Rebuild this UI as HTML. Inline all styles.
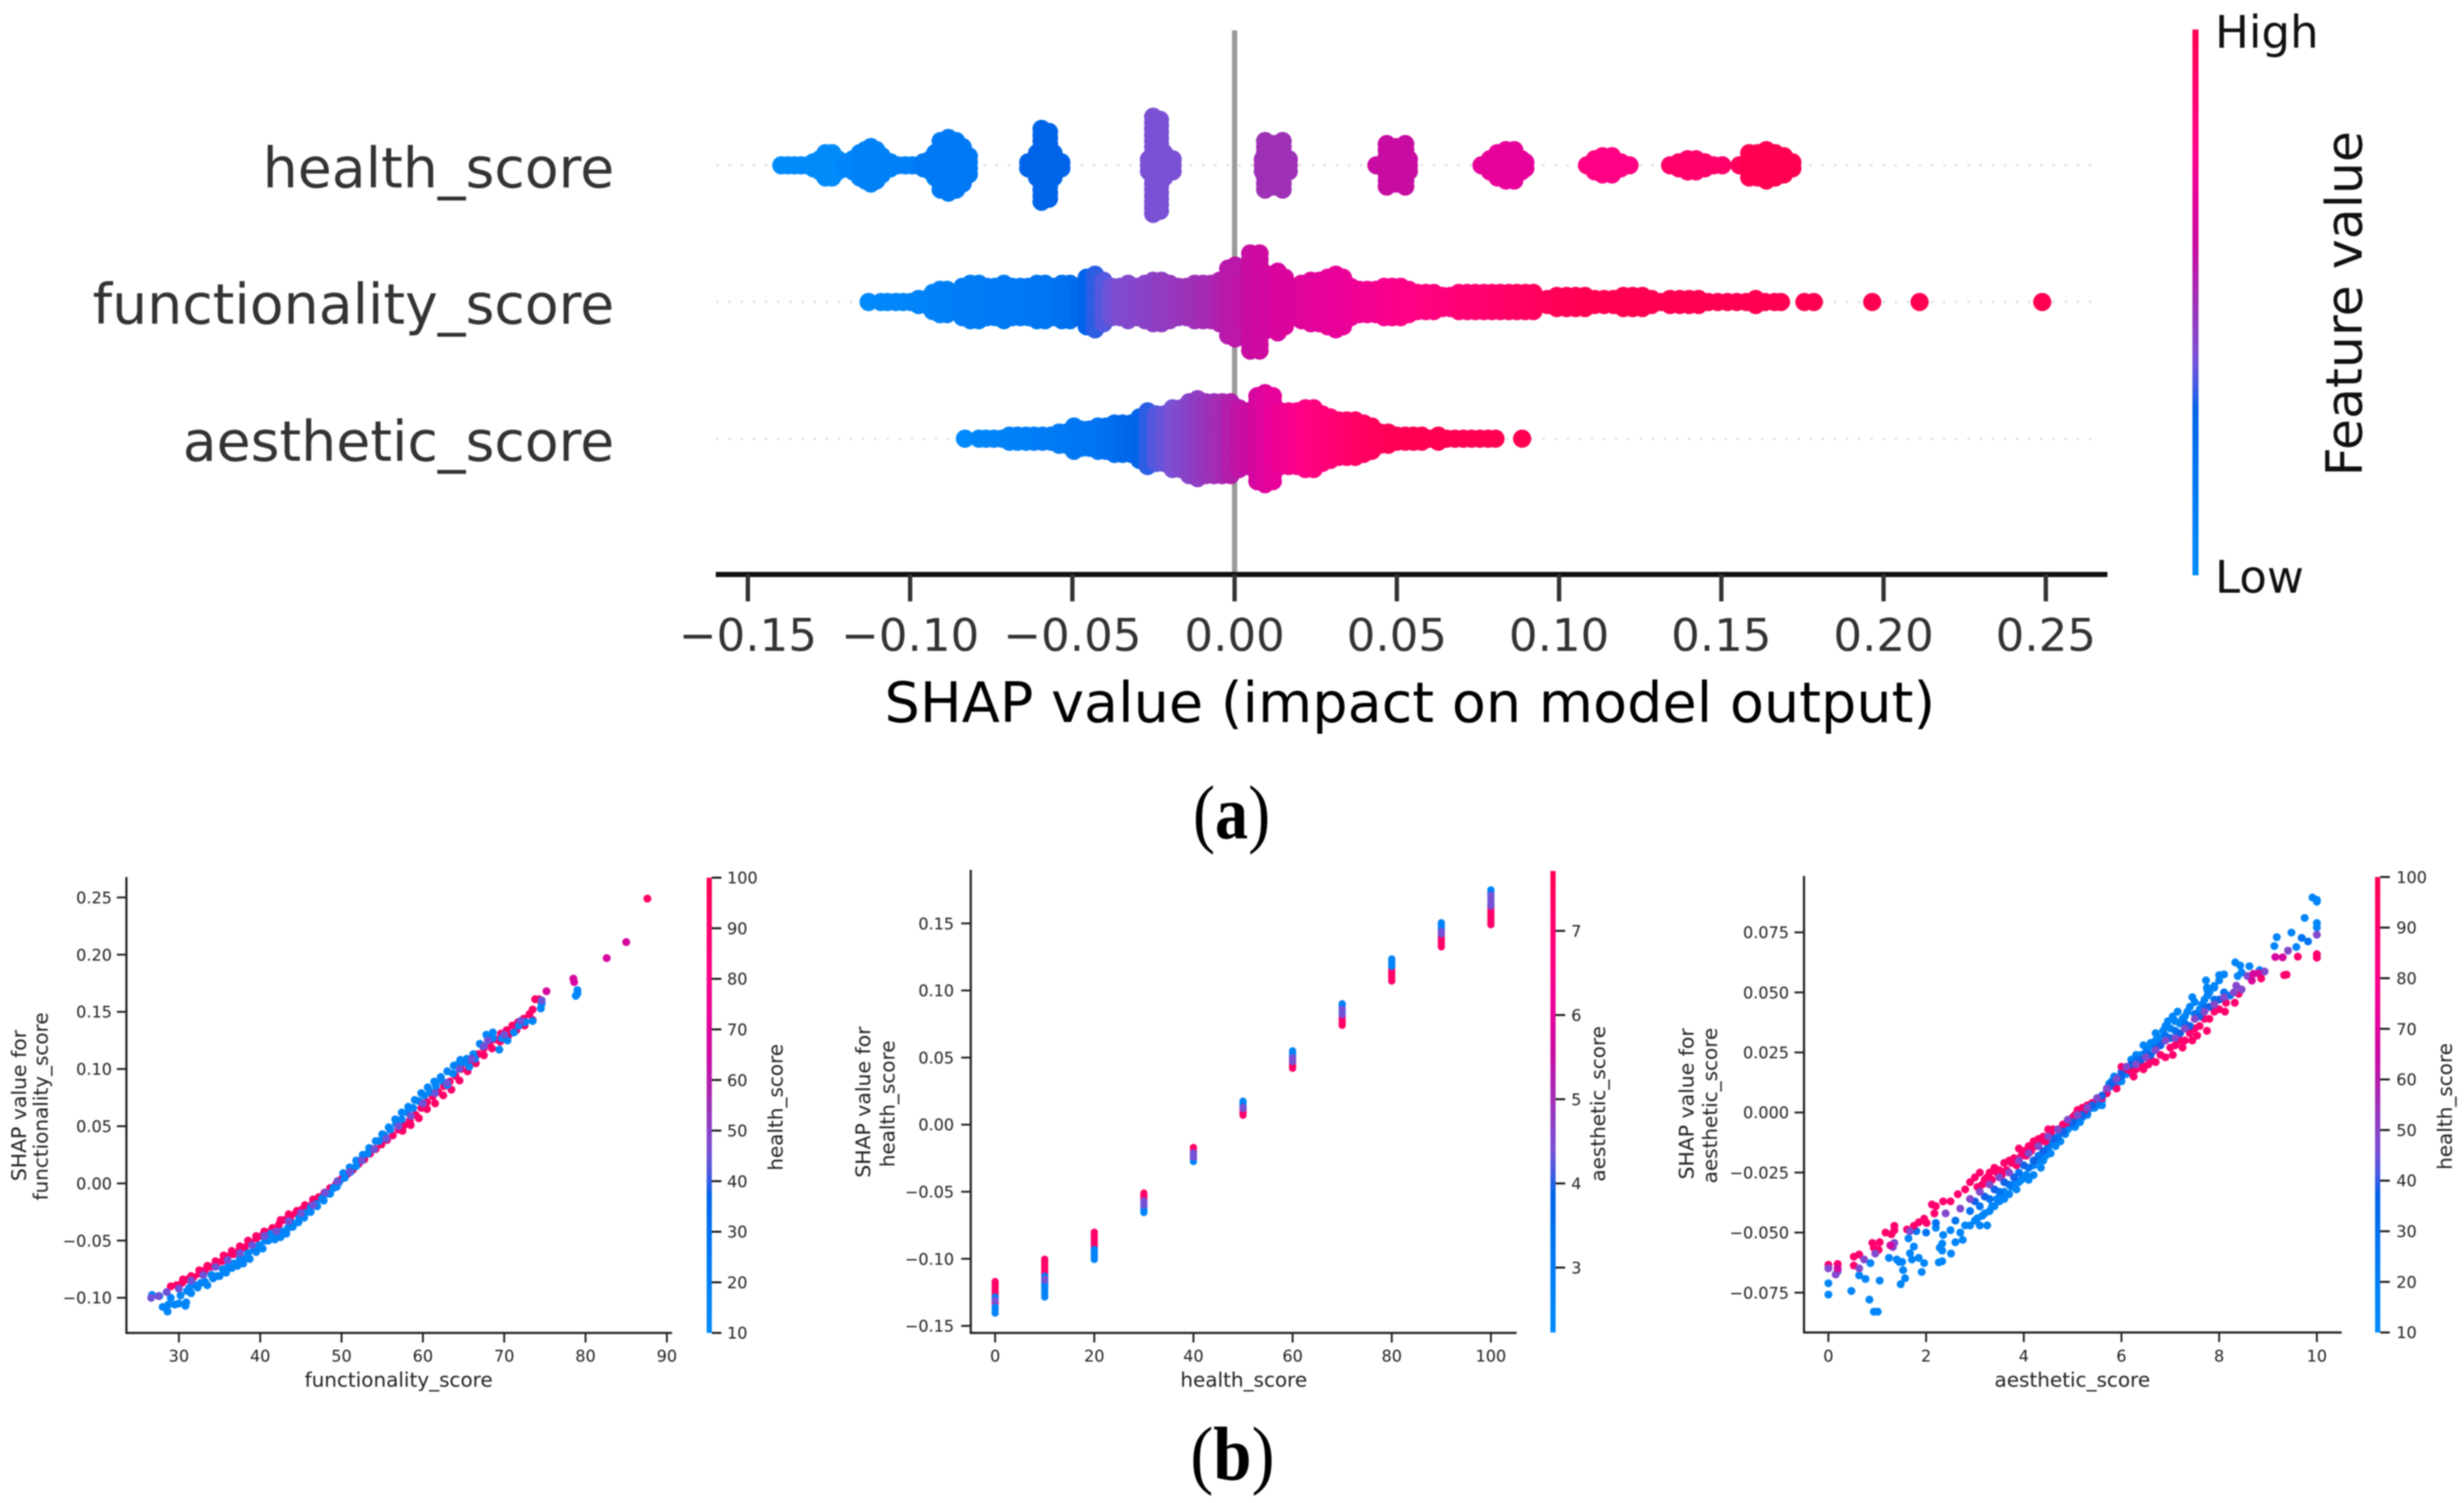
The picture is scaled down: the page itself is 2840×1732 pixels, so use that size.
<!DOCTYPE html>
<html lang="en">
<head>
<meta charset="utf-8">
<title>SHAP summary and dependence plots</title>
<style>
html,body{margin:0;padding:0;background:#fff;}
svg{display:block;filter:blur(0.7px);}
text{font-family:"DejaVu Sans","Liberation Sans",sans-serif;}
.cap{font-family:"Liberation Serif",serif;fill:#000;}
</style>
</head>
<body>
<svg id="chart" xmlns="http://www.w3.org/2000/svg" width="2840" height="1732" viewBox="0 0 2840 1732">
<defs>
<linearGradient id="rb" x1="0" y1="1" x2="0" y2="0">
<stop offset="0" stop-color="#008bfb"/><stop offset=".2" stop-color="#0074f2"/><stop offset=".3" stop-color="#0064ea"/><stop offset=".35" stop-color="#4a5ae0"/><stop offset=".4" stop-color="#7a50d4"/><stop offset=".5" stop-color="#9e30b6"/><stop offset=".6" stop-color="#c80ca2"/><stop offset=".7" stop-color="#e8009a"/><stop offset=".8" stop-color="#ff0084"/><stop offset="1" stop-color="#ff0051"/>
</linearGradient>
</defs>
<rect x="0" y="0" width="2840" height="1732" fill="#fff"/>

<g id="summary">
<text x="708" y="216" font-size="63.8" text-anchor="end" fill="#333">health_score</text>
<text x="708" y="373" font-size="63.8" text-anchor="end" fill="#333">functionality_score</text>
<text x="708" y="531" font-size="63.8" text-anchor="end" fill="#333">aesthetic_score</text>
<text x="1625" y="832" font-size="64" text-anchor="middle" fill="#000" textLength="1211" lengthAdjust="spacingAndGlyphs">SHAP value (impact on model output)</text>
<rect x="2527" y="34" width="7" height="629" fill="url(#rb)"/>
<text x="2553" y="55" font-size="52" fill="#111">High</text>
<text x="2553" y="683" font-size="52" fill="#111">Low</text>
<text transform="translate(2722 350) rotate(-90)" font-size="58" text-anchor="middle" fill="#111" textLength="398" lengthAdjust="spacingAndGlyphs">Feature value</text>
</g>

<g id="p1">
<text x="459.5" y="1598" font-size="23" text-anchor="middle" fill="#222">functionality_score</text>
<text transform="translate(30 1274) rotate(-90)" font-size="23.5" text-anchor="middle" fill="#222">SHAP value for</text>
<text transform="translate(55 1275) rotate(-90)" font-size="23" text-anchor="middle" fill="#222">functionality_score</text>
<text transform="translate(902 1276) rotate(-90)" font-size="23" text-anchor="middle" fill="#222">health_score</text>
<rect x="814.5" y="1011.4" width="6" height="524.6" fill="url(#rb)"/>
</g>

<g id="p2">
<text x="1433.6" y="1598" font-size="23" text-anchor="middle" fill="#222">health_score</text>
<text transform="translate(1003 1270) rotate(-90)" font-size="23.5" text-anchor="middle" fill="#222">SHAP value for</text>
<text transform="translate(1031 1272) rotate(-90)" font-size="23" text-anchor="middle" fill="#222">health_score</text>
<text transform="translate(1850 1272) rotate(-90)" font-size="23" text-anchor="middle" fill="#222">aesthetic_score</text>
<rect x="1787" y="1003.7" width="6" height="531.8" fill="url(#rb)"/>
</g>

<g id="p3">
<text x="2388.6" y="1598" font-size="23" text-anchor="middle" fill="#222">aesthetic_score</text>
<text transform="translate(1952 1272) rotate(-90)" font-size="23.5" text-anchor="middle" fill="#222">SHAP value for</text>
<text transform="translate(1979 1274) rotate(-90)" font-size="23" text-anchor="middle" fill="#222">aesthetic_score</text>
<text transform="translate(2826 1275) rotate(-90)" font-size="23" text-anchor="middle" fill="#222">health_score</text>
<rect x="2737.5" y="1010.6" width="6" height="524.9" fill="url(#rb)"/>
</g>

<text class="cap" x="1375" y="966" font-size="88" textLength="89" lengthAdjust="spacingAndGlyphs">(<tspan font-weight="bold">a</tspan>)</text>
<text class="cap" x="1372" y="1705" font-size="88" textLength="97" lengthAdjust="spacingAndGlyphs">(<tspan font-weight="bold">b</tspan>)</text>
</svg>

<script>
/* ---------- Summary (beeswarm) data: SHAP bin, stacked count, feature value (0-100 of colour range) ---------- */
const summaryTickValues = [-0.15,-0.10,-0.05,0,0.05,0.10,0.15,0.20,0.25];
const summaryTickLabels = ["\u22120.15","\u22120.10","\u22120.05","0.00","0.05","0.10","0.15","0.20","0.25"];

const healthShap = [
-.1397,-.1377,-.1356,-.1336,-.1315,-.1298,-.1278,-.1261,-.124,-.1223,
-.1198,-.1176,-.1155,-.1138,-.1121,-.1104,-.1087,-.1061,-.1039,-.1015,
-.0993,-.0973,-.0959,-.0937,-.0923,-.0906,-.0882,-.0858,-.0838,-.0819,
-.0636,-.0609,-.0595,-.0572,-.0558,-.0534,
-.0264,-.0251,-.023,-.0217,-.0191,
.0087,.0094,.0121,.0148,.0167,
.0437,.0469,.0497,.0526,.0537,
.0761,.0787,.081,.0836,.0862,.0884,.0896,
.1086,.111,.1134,.1163,.119,.1217,
.1342,.1369,.1396,.1422,.1449,.1476,.1503,
.1556,.1586,.1612,.1639,.1666,.1693,.1719];
const healthCount = [
1,1,1,1,1,2,3,5,5,3,
2,3,5,6,7,6,4,2,1,1,
1,1,2,3,5,9,10,9,7,4,
2,5,13,12,5,2,
3,17,16,5,3,
3,9,8,9,3,
1,8,7,8,3,
1,3,5,6,6,3,2,
1,3,4,4,2,1,
1,2,3,3,2,1,1,
1,5,5,6,5,4,2];
const healthValue = [
0,0,0,0,0,0,0,0,0,0,
5,5,8,8,8,8,8,10,10,10,
10,12,15,15,15,15,15,15,15,15,
30,30,30,30,30,30,
40,40,40,40,40,
50,50,50,50,50,
60,60,60,60,60,
70,70,70,70,70,70,70,
80,80,80,80,80,80,
90,90,90,90,90,90,90,
96,100,100,100,100,100,100];

const functionalityShap = [
-.1128,-.109,-.107,-.1044,-.1022,-.0998,-.0974,-.095,-.093,-.0908,
-.0886,-.0865,-.0839,-.0814,-.0788,-.0763,-.0737,-.0711,-.0686,-.066,
-.0635,-.0609,-.0584,-.0558,-.0532,-.0507,-.0481,-.0456,-.043,-.0404,
-.0379,-.0353,-.0328,-.0302,-.0276,-.0251,-.0225,-.02,-.0174,-.0148,
-.0123,-.0097,-.0072,-.0046,-.002,.0002,.0022,.0048,.0077,.0104,
.0133,.0155,.0179,.0206,.0235,.0261,.0287,.0312,.0334,.0358,
.0384,.0409,.0435,.0461,.0486,.0512,.0537,.0563,.0589,.0614,
.064,.0665,.0691,.0717,.0742,.0768,.0793,.0819,.0845,.087,
.0896,.0921,.0935,.0964,.0993,.1023,.1051,.108,.111,.1139,
.1168,.1198,.1227,.1257,.1285,.1314,.1342,.1372,.1401,.143,
.146,.1489,.1519,.1548,.1577,.1606,.1635,.1664,.1684,.1756,
.1785,.1965,.2111,.2489];
const functionalityCount = [
1,1,1,1,1,1,2,2,4,5,
5,4,6,7,7,6,6,7,6,6,
6,7,7,6,7,7,6,9,10,8,
6,6,7,6,7,8,8,7,6,6,
7,7,7,8,12,13,7,17,17,10,
11,9,6,7,8,8,9,10,9,6,
5,5,5,6,6,6,5,4,4,4,
3,3,4,4,4,4,4,4,4,4,
4,4,2,2,3,3,3,3,2,2,
2,3,3,3,2,1,2,2,2,2,
1,1,1,1,1,2,1,1,1,1,
1,1,1,1];
const functionalityValue = [
2,3,3,4,4,5,6,7,8,9,
10,11,12,13,13,14,15,15,16,16,
17,18,19,20,21,23,26,30,33,36,
39,41,42,43,44,45,46,47,48,49,
50,51,52,54,56,57,58,60,62,63,
65,66,66,67,68,69,70,70,71,72,
73,74,75,76,77,78,79,80,81,82,
83,84,85,86,87,88,89,90,91,92,
93,94,95,96,97,98,99,100,100,100,
100,100,100,100,100,100,100,100,100,100,
100,100,100,100,100,100,100,100,100,100,
100,100,100,100];

const aestheticShap = [
-.0831,-.0788,-.0766,-.0742,-.0717,-.0694,-.0669,-.0643,-.0618,-.0592,
-.0566,-.0541,-.0519,-.0495,-.0473,-.0447,-.0421,-.0396,-.037,-.0345,
-.0319,-.0293,-.0268,-.0242,-.0217,-.0191,-.0165,-.014,-.0114,-.0089,
-.0063,-.0038,-.0012,.0014,.0039,.007,.0094,.0118,.0142,.0167,
.0193,.0218,.0244,.027,.0295,.0321,.0346,.0372,.0398,.0423,
.0449,.0474,.05,.0526,.0551,.0577,.0602,.0628,.0653,.0679,
.0705,.073,.0756,.0781,.0804,.0886];
const aestheticCount = [
1,1,1,1,1,2,2,2,2,2,
2,3,3,5,4,4,5,5,6,6,
6,8,10,9,9,11,11,13,14,13,
13,13,13,11,10,15,16,15,10,10,
10,11,11,9,8,7,7,7,6,5,
3,3,2,2,2,2,1,2,1,1,
1,1,1,1,1,1];
const aestheticValue = [
2,4,5,6,7,8,9,10,11,12,
13,14,15,17,18,19,20,22,24,26,
28,30,33,36,38,40,42,44,46,48,
50,52,55,58,61,64,67,70,73,75,
77,79,81,83,85,87,89,91,93,95,
96,97,98,99,100,100,100,100,100,100,
100,100,100,100,100,100];

/* ---------- Panel 1: functionality_score vs SHAP, grouped by health_score ---------- */
const funcXTicks = [30,40,50,60,70,80,90];
const funcYTicks = [-0.10,-0.05,0,0.05,0.10,0.15,0.20,0.25];
const healthColorTicks = [10,20,30,40,50,60,70,80,90,100];

const funcLowHealth = 15;
const funcLowX = [
26.7,27.6,28,28.6,28.7,29,29.5,30,30.2,30.9,
30.8,31.5,31,32,32.7,33.5,34,34.7,35.4,36.1,
36.8,37.5,38,38.5,39.2,39.9,40.6,41.3,42,42.7,
43.4,44.1,44.8,45.5,46.2,46.9,47.6,48.3,49,49.7,
50.4,51.1,51.8,52.5,53.2,53.9,54.6,55.3,56,56.7,
57.4,58.1,58.8,59.5,60.2,60.9,61.6,62.3,63,63.7,
64.3,65,65.7,66.4,67.4,68,68.6,69.4,69.7,70.4,
71.2,71.8,72.6,73.5,74.5,74.6,74.6,78.8,79,79];
const funcLowShap = [
-.0975,-.0985,-.108,-.112,-.106,-.1,-.106,-.105,-.098,-.104,
-.107,-.096,-.094,-.089,-.087,-.089,-.08,-.081,-.075,-.072,
-.07,-.066,-.066,-.061,-.058,-.054,-.05,-.044,-.044,-.042,
-.039,-.035,-.03,-.026,-.021,-.018,-.013,-.009,-.004,.001,
.005,.01,.015,.021,.026,.03,.037,.042,.047,.052,
.056,.062,.066,.072,.077,.08,.085,.09,.086,.096,
.104,.106,.102,.109,.12,.126,.127,.117,.127,.125,
.132,.138,.141,.142,.153,.157,.16,.164,.169,.166];

const funcOuterLowX = [
31.3,32.3,33.2,34.2,35,35.8,36.5,37.2,37.9,38.7,
39.5,40.3,41,41.8,42.5,43.2,44,44.7,45.4,46.2,
47,47.8,48.6,49.4,50.2,51,51.8,52.6,53.4,54.2,
55,55.8,56.6,57.4,58.2,59,59.8,60.6,61.4,62.2,
63,63.8,64.6,65.4,66.2,67,67.8,68.6];
const funcOuterLowShap = [
-.091,-.091,-.086,-.083,-.081,-.078,-.074,-.072,-.07,-.066,
-.06,-.057,-.05,-.049,-.047,-.044,-.038,-.034,-.03,-.025,
-.02,-.015,-.009,-.003,.009,.014,.02,.025,.031,.037,
.043,.049,.056,.062,.067,.073,.079,.084,.089,.093,
.098,.103,.108,.109,.113,.122,.13,.132];

const funcMidHealth = 45;
const funcMidX = [
26.6,27.5,28.5,30,31.5,33,34.5,36,37.5,39,
40.5,42,43.5,45,46.5,48,49.5,51,52.5,54,
55.5,57,58.5,60,61.5,63,64.5,66,67.5,68,
70,72,74.6];
const funcMidShap = [
-.1,-.0985,-.095,-.092,-.085,-.08,-.073,-.067,-.061,-.054,
-.046,-.042,-.033,-.026,-.019,-.008,.002,.01,.02,.03,
.039,.05,.059,.07,.079,.088,.1,.109,.12,.125,
.13,.142,.16];

const funcMagentaHealth = 68;
const funcMagentaX = [75.2,78.5,78.6,82.6,85];
const funcMagentaShap = [.168,.179,.176,.197,.211];

const funcHighHealth = 92;
const funcHighX = [
29,29.7,30.4,31.1,31.8,32.5,33.2,33.9,34.6,35.3,
36,36.7,37.4,38.1,38.8,39.5,40.2,40.9,41.6,42.3,
43,43.7,44.4,45.1,45.8,46.5,47.2,47.9,48.6,49.3,
50,50.7,51.4,52.1,52.8,53.5,54.2,54.9,55.6,56.3,
57,57.7,58.4,59.1,59.8,60.5,61.2,61.9,62.6,63.3,
64,64.7,65.4,66.1,66.8,67.5,68.2,68.9,69.6,70.3,
71,71.7,72.4,73.1,73.5,73.8,74.3,87.6];
const funcHighShap = [
-.090,-.089,-.087,-.084,-.082,-.079,-.076,-.073,-.071,-.068,
-.064,-.062,-.059,-.056,-.052,-.048,-.046,-.043,-.041,-.036,
-.032,-.030,-.026,-.023,-.020,-.016,-.012,-.008,-.004,-.001,
.004,.008,.012,.017,.021,.026,.030,.034,.038,.042,
.047,.051,.055,.060,.066,.071,.076,.080,.085,.089,
.094,.100,.105,.108,.113,.118,.122,.126,.131,.134,
.138,.141,.144,.148,.152,.161,.161,.249];

const funcOuterHighX = [
30.5,31.5,32.5,33.5,34.5,35.5,36.5,37.5,38.5,39.5,
40.5,41.5,42.5,43.5,44.5,45.5,46.5,
57.5,58.5,59.5,60.5,61.5,62.5,63.5,64.5,65.5,
66.5,67.5,68.5,69.5,70.5,71.5,72.5,73.5];
const funcOuterHighShap = [
-.084,-.081,-.076,-.072,-.068,-.063,-.059,-.055,-.05,-.046,
-.042,-.039,-.032,-.027,-.024,-.019,-.014,
.046,.051,.057,.065,.07,.077,.082,.09,.098,
.105,.112,.118,.124,.129,.134,.138,.143];

/* ---------- Panel 2: health_score vs SHAP, grouped by aesthetic_score ---------- */
const healthXTicks = [0,20,40,60,80,100];
const healthYTicks = [-0.15,-0.10,-0.05,0,0.05,0.10,0.15];
const aestheticColorTicks = [3,4,5,6,7];

const depLowAesthetic = 2.6;
const depLowX = [
0,0,0,0,
10,10,10,10,10,10,10,
20,20,20,20,20,
30,30,30,
40,
50,50,50,
60,60,60,
70,70,70,
80,80,80,80,
90,90,90,90,
100,100,100];
const depLowShap = [
-.1285,-.136,-.138,-.1405,
-.113,-.118,-.12,-.122,-.124,-.126,-.1285,
-.093,-.095,-.097,-.099,-.1005,
-.062,-.064,-.0655,
-.0275,
.0175,.016,.014,
.055,.053,.051,
.09,.088,.084,
.1235,.122,.12,.118,
.1505,.149,.147,.145,
.175,.173,.17];

const depMidAesthetic = 4.4;
const depMidX = [
0,
10,10,
30,30,30,
40,40,40,
50,50,
60,60,
70,70,
90,90,
100,100,100,100,100];
const depMidShap = [
-.131,
-.115,-.116,
-.057,-.059,-.06,
-.021,-.022,-.024,
.012,.013,
.05,.047,
.086,.082,
.144,.142,
.171,.168,.166,.164,.163];

const depHighAesthetic = 7.2;
const depHighX = [
0,0,0,0,0,0,0,0,
10,10,10,10,10,10,10,
20,20,20,20,20,20,20,
30,30,30,
40,40,40,40,
50,50,50,
60,60,60,60,
70,70,70,70,70,
80,80,80,80,80,80,
90,90,90,90,90,
100,100,100,100,100,100,100,100];
const depHighShap = [
-.117,-.119,-.121,-.123,-.125,-.127,-.129,-.133,
-.1003,-.102,-.104,-.106,-.108,-.11,-.112,
-.0802,-.082,-.084,-.086,-.088,-.09,-.092,
-.051,-.053,-.055,
-.017,-.019,-.023,-.025,
.007,.009,.011,
.042,.044,.046,.049,
.074,.076,.078,.08,.09,
.107,.109,.111,.113,.115,.117,
.1325,.134,.136,.138,.14,
.149,.151,.153,.155,.157,.159,.161,.173];

/* ---------- Panel 3: aesthetic_score vs SHAP, grouped by health_score ---------- */
const aesXTicks = [0,2,4,6,8,10];
const aesYTicks = [-0.075,-0.05,-0.025,0,0.025,0.05,0.075];

const aesLowHealth = 15;
const aesLowX = [
9.91,10,10,9.75,10,10,9.48,9.18,9.58,9.13,
8.33,8.43,8.62,8.83,8.46,8.38,8.1,8,7.73,7.76,
7.9,7.76,
0,0,.47,.76,.86,.84,.93,1.01,1.05,1.4,
1.45,1.51,1.53,1.48,1.57,1.64,1.75,1.67,1.71,1.85,
1.96,1.91,2.26,2.33,2.28,2.33,2.33,2.51,1.24,.63,
2.2,2.35,2.5,2.6,2.7,2.75,2.8,2.9,3,3.1,
3.15,3.25,3.3,3.4,3.5,3.55,3.6,3.7,3.8,3.9,
4,4.1,4.2,4.3,4.4,4.5,4.6,4.7,4.8,4.9,
5,5.1,5.2,5.4,5.5,5.6,5.7,5.8,5.9,6,
6.1,6.2,6.3,6.4,6.5,6.6,6.7,6.8,6.9,7,
7.1,7.2,7.3,7.4,7.5,7.6,7.7,7.8,7.9,8];
const aesLowShap = [
.0895,.0885,.0878,.081,.0789,.077,.0749,.073,.0689,.0693,
.0625,.0612,.0609,.0593,.0583,.0568,.0575,.0572,.055,.0509,
.0527,.0487,
-.0711,-.0758,-.0743,-.0693,-.0627,-.0779,-.0829,-.0829,-.07,-.0612,
-.0622,-.0622,-.0656,-.0715,-.069,-.0524,-.0558,-.0586,-.0612,-.0605,
-.0627,-.0664,-.0624,-.0619,-.0563,-.0546,-.0575,-.0587,-.0605,-.0678,
-.048,-.051,-.049,-.054,-.05,-.053,-.047,-.047,-.045,-.047,
-.043,-.047,-.041,-.039,-.037,-.034,-.033,-.034,-.03,-.029,
-.027,-.028,-.022,-.02,-.02,-.016,-.013,-.012,-.008,-.007,
-.004,-.003,-.002,.002,.003,.005,.009,.013,.012,.013,
.016,.022,.024,.024,.025,.029,.03,.031,.036,.035,
.038,.037,.04,.044,.046,.043,.047,.05,.052,.055];

const aesLowExtraX = [
3.05,3.2,3.35,3.45,3.6,3.75,3.85,3.95,4.05,4.2,
4.35,4.45,4.55,4.65,4.75,4.85,4.95,5.05,5.15,5.3,
5.45,5.6,5.75,5.85,6,6.15,6.3,6.45,6.55,6.7,
6.85,6.95,7.05,7.15,7.25,7.35,7.45,7.55,7.65,7.75];
const aesLowExtraShap = [
-.044,-.042,-.039,-.036,-.036,-.031,-.032,-.028,-.026,-.026,
-.023,-.018,-.017,-.014,-.012,-.009,-.006,-.006,-.004,-.001,
.002,.003,.012,.015,.017,.019,.021,.028,.027,.033,
.034,.038,.04,.042,.039,.042,.048,.041,.045,.052];

const aesDarkHealth = 28;
const aesDarkX = [
9.69,9.82,8.22,1.8,2,2.2,
2.6,2.9,3.1,3.3,3.5,3.7,3.9,4.1,4.3,
4.5,4.7,4.9,5.1,5.3,5.5,5.8,6,6.3,6.5,
6.7,6.9,7.1,7.3,7.5,7.7,7.9,8.1];
const aesDarkShap = [
.0727,.0712,.0487,-.0494,-.05,-.046,
-.045,-.041,-.039,-.036,-.033,-.03,-.025,-.023,-.018,
-.014,-.01,-.005,-.002,0,.004,.011,.015,.022,.025,
.027,.032,.034,.037,.041,.044,.047,.05];

const aesBlendHealth = 38;
const aesBlendX = [
3,3.2,3.4,3.6,3.8,4,4.2,4.4,4.6,4.8,
5,5.2,5.4,5.6,5.8,6,6.2,6.4,6.6,6.8,
7,7.2,7.4,7.6,7.8,8];
const aesBlendShap = [
-.037,-.035,-.032,-.029,-.027,-.022,-.02,-.016,-.011,-.008,
-.004,-.001,.003,.007,.012,.016,.02,.022,.024,.028,
.031,.033,.036,.04,.044,.047];

const aesMidHealth = 48;
const aesMidX = [
10,9.41,8.93,8.58,8.46,8.35,0,.19,.15,.63,
.73,.96,1.35,1.32,1.67,2.4,2.7,2.9,3.1,3.3,
3.5,3.7,3.9,4.1,4.3,4.5,4.7,4.9,5.1,5.3,
5.5,5.7,5.9,6.1,6.3,6.5,6.7,6.9,7.1,7.3,
7.5,7.7,7.9,8.1,8.3];
const aesMidShap = [
.074,.0674,.0587,.0568,.0512,.0528,-.0649,-.0661,-.0674,-.0649,
-.0612,-.0587,-.0543,-.056,-.0494,-.042,-.04,-.036,-.033,-.03,
-.027,-.025,-.02,-.017,-.014,-.01,-.007,-.003,-.001,.002,
.006,.01,.014,.019,.02,.023,.026,.03,.031,.035,
.039,.042,.045,.048,.05];

const aesMagentaHealth = 68;
const aesMagentaX = [9.15,9.3,8.7,8.8,8.67,.19,1.27];
const aesMagentaShap = [.0647,.0646,.0577,.058,.0549,-.0649,-.0553];

const aesHighHealth = 90;
const aesHighX = [
9.61,10,10,9.33,9.38,8.86,8.4,8.32,8.12,8.14,
0,.19,.52,.52,.63,.9,.93,1.05,1.03,1.17,
1.29,1.35,1.35,1.61,1.75,1.85,1.96,2.01,2.12,2.17,
2.2,2.35,2.5,2.65,2.8,2.9,3,3.1,3.2,3.3,
3.4,3.5,3.6,3.7,3.8,3.9,4,4.1,4.2,4.3,
4.4,4.5,4.6,4.8,5,5.1,5.2,5.3,5.4,5.6,
5.7,5.9,6,6.1,6.2,6.3,6.4,6.6,6.8,7,
7.1,7.2,7.3,7.4,7.5,7.6,7.7,7.8,7.9,8];
const aesHighShap = [
.0649,.0659,.0645,.0572,.0574,.0558,.0494,.0457,.042,.0457,
-.0634,-.0631,-.06,-.0637,-.0591,-.0543,-.0563,-.054,-.0572,-.05,
-.0507,-.0472,-.049,-.0487,-.0472,-.0457,-.0442,-.046,-.0383,-.042,
-.039,-.037,-.037,-.034,-.032,-.029,-.027,-.025,-.028,-.025,
-.023,-.024,-.021,-.02,-.019,-.015,-.016,-.014,-.012,-.011,
-.01,-.007,-.007,-.005,-.002,.001,.002,.003,.004,.006,
.008,.01,.019,.018,.017,.018,.02,.022,.024,.027,
.028,.03,.03,.033,.035,.036,.039,.039,.042,.043];

const aesHighExtraX = [
3.05,3.15,3.25,3.35,3.45,3.55,3.65,3.75,3.85,3.95,
4.05,4.15,4.25,4.35,4.45,4.55,4.7,4.9,5.05,5.25,
6.25,6.45,6.55,6.7,6.9,7.05,7.25,7.45,7.55,7.75];
const aesHighExtraShap = [
-.031,-.03,-.027,-.028,-.025,-.026,-.024,-.021,-.022,-.018,
-.018,-.016,-.014,-.012,-.012,-.009,-.007,-.004,-.001,.001,
.015,.018,.02,.021,.023,.024,.027,.03,.032,.034];

/* ---------- Helpers ---------- */
const NS = 'http://www.w3.org/2000/svg';
function mk(tag, attrs, parent){
  const el = document.createElementNS(NS, tag);
  for (const k in attrs) el.setAttribute(k, attrs[k]);
  parent.appendChild(el);
  return el;
}
const cmapPos = [0,.2,.3,.35,.4,.5,.6,.7,.8,1];
const cmapRGB = [[0,139,251],[0,116,242],[0,100,234],[74,90,224],[122,80,212],[158,48,182],[200,12,162],[232,0,154],[255,0,132],[255,0,81]];
function cmap(t){
  t = Math.max(0, Math.min(1, t));
  let i = 0;
  while (i < cmapPos.length - 2 && t > cmapPos[i+1]) i++;
  const f = (t - cmapPos[i]) / (cmapPos[i+1] - cmapPos[i]);
  const a = cmapRGB[i], b = cmapRGB[i+1];
  return 'rgb(' + [0,1,2].map(function(k){ return Math.round(a[k] + (b[k]-a[k])*f); }).join(',') + ')';
}
function fmtTick(v, digits){
  return (v < 0 ? '\u2212' : '') + Math.abs(v).toFixed(digits);
}

/* ---------- Summary plot ---------- */
const summaryG = document.getElementById('summary');
const xSummary = function(v){ return 1423 + v * 3740; };
const rowCenters = [190.5, 348, 505.5];
const DOT_R = 10.5, STACK_STEP = 7;

rowCenters.forEach(function(cy){
  const guide = mk('line', {x1:826, x2:2418, y1:cy, y2:cy, stroke:'#d4d4d4', 'stroke-width':2.5, 'stroke-dasharray':'2 12'}, summaryG);
  
  
});
const zeroLine = mk('line', {x1:xSummary(0), x2:xSummary(0), y1:35, y2:662, stroke:'#999', 'stroke-width':6}, summaryG);



function drawSwarm(shap, counts, values, cy, name){
  const g = mk('g', {}, summaryG);
  
  
  shap.forEach(function(s, i){
    const n = counts[i];
    for (let k = 0; k < n; k++){
      const dot = mk('circle', {cx:xSummary(s), cy:cy + (k-(n-1)/2)*STACK_STEP, r:DOT_R, fill:cmap(values[i]/100)}, g);
      
      
    }
  });
}
drawSwarm(healthShap, healthCount, healthValue, rowCenters[0], 'health-score-swarm');
drawSwarm(functionalityShap, functionalityCount, functionalityValue, rowCenters[1], 'functionality-score-swarm');
drawSwarm(aestheticShap, aestheticCount, aestheticValue, rowCenters[2], 'aesthetic-score-swarm');

const summaryAxis = mk('line', {x1:825, x2:2429, y1:662, y2:662, stroke:'#111', 'stroke-width':6}, summaryG);


summaryTickValues.forEach(function(v, i){
  const t = mk('line', {x1:xSummary(v), x2:xSummary(v), y1:662, y2:693, stroke:'#333', 'stroke-width':5}, summaryG);
  
  
  const lab = mk('text', {x:xSummary(v), y:750, 'font-size':52, 'text-anchor':'middle', fill:'#333'}, summaryG);
  
  
  lab.textContent = summaryTickLabels[i];
});

/* ---------- Dependence panels ---------- */
function drawAxes(gid, p, xTicks, yTicks, xDigits, yDigits, cTicks, cDigits){
  const g = document.getElementById(gid);
  const left = mk('line', {x1:p.left, x2:p.left, y1:p.top, y2:p.bottom+1, stroke:'#222', 'stroke-width':2.5}, g);
  
  
  const bottom = mk('line', {x1:p.left-1, x2:p.right, y1:p.bottom, y2:p.bottom, stroke:'#222', 'stroke-width':2.5}, g);
  
  
  xTicks.forEach(function(v){
    const t = mk('line', {x1:p.x(v), x2:p.x(v), y1:p.bottom, y2:p.bottom+11, stroke:'#222', 'stroke-width':2.2}, g);
    
    
    const l = mk('text', {x:p.x(v), y:1569, 'font-size':18.5, 'text-anchor':'middle', fill:'#222'}, g);
    
    
    l.textContent = fmtTick(v, xDigits);
  });
  yTicks.forEach(function(v){
    const t = mk('line', {x1:p.left-11, x2:p.left, y1:p.y(v), y2:p.y(v), stroke:'#222', 'stroke-width':2.2}, g);
    
    
    const l = mk('text', {x:p.labelRight, y:p.y(v)+6.7, 'font-size':18.5, 'text-anchor':'end', fill:'#222'}, g);
    
    
    l.textContent = fmtTick(v, yDigits);
  });
  cTicks.forEach(function(v){
    const t = mk('line', {x1:p.cbarRight, x2:p.cbarRight+p.cbarTick, y1:p.c(v), y2:p.c(v), stroke:'#111', 'stroke-width':2.2}, g);
    
    
    const l = mk('text', {x:p.cbarLabel, y:p.c(v)+6.7, 'font-size':18.5, fill:'#222'}, g);
    
    
    l.textContent = fmtTick(v, cDigits);
  });
}
function drawPoints(gid, p, xs, ys, level){
  const g = document.getElementById(gid);
  const fill = cmap((level - p.vmin) / (p.vmax - p.vmin));
  const n = Math.min(xs.length, ys.length);
  for (let i = 0; i < n; i++){
    const pt = mk('circle', {cx:p.x(xs[i]), cy:p.y(ys[i]), r:p.r, fill:fill}, g);
    
    
  }
}

const panel1 = {
  left:145.7, right:774.6, top:1010.6, bottom:1536, labelRight:129, r:4.6,
  cbarRight:820.5, cbarTick:11, cbarLabel:838, vmin:10, vmax:100,
  x:function(v){ return 206.2 + (v-30)*9.374; },
  y:function(v){ return 1363.7 - v*1318; },
  c:function(v){ return 1536 - (v-10)*5.829; }
};
const panel2 = {
  left:1118.9, right:1748, top:1002.4, bottom:1536, labelRight:1099.7, r:4.2,
  cbarRight:1793, cbarTick:11, cbarLabel:1811, vmin:2.23, vmax:7.71,
  x:function(v){ return 1147 + v*5.714; },
  y:function(v){ return 1296 - v*1546; },
  c:function(v){ return 1363.7 - (v-4)*97; }
};
const panel3 = {
  left:2079.3, right:2699, top:1009.4, bottom:1535.5, labelRight:2062, r:4.6,
  cbarRight:2743.5, cbarTick:11, cbarLabel:2762, vmin:10, vmax:100,
  x:function(v){ return 2107.4 + v*56.3; },
  y:function(v){ return 1282 - v*2768; },
  c:function(v){ return 1535.5 - (v-10)*5.832; }
};

drawPoints('p1', panel1, funcHighX, funcHighShap, funcHighHealth);
drawPoints('p1', panel1, funcOuterHighX, funcOuterHighShap, funcHighHealth);
drawPoints('p1', panel1, funcMagentaX, funcMagentaShap, funcMagentaHealth);
drawPoints('p1', panel1, funcOuterLowX, funcOuterLowShap, funcLowHealth);
drawPoints('p1', panel1, funcLowX, funcLowShap, funcLowHealth);
drawPoints('p1', panel1, funcMidX, funcMidShap, funcMidHealth);
drawAxes('p1', panel1, funcXTicks, funcYTicks, 0, 2, healthColorTicks, 0);

drawPoints('p2', panel2, depHighX, depHighShap, depHighAesthetic);
drawPoints('p2', panel2, depLowX, depLowShap, depLowAesthetic);
drawPoints('p2', panel2, depMidX, depMidShap, depMidAesthetic);
drawAxes('p2', panel2, healthXTicks, healthYTicks, 0, 2, aestheticColorTicks, 0);

drawPoints('p3', panel3, aesLowX, aesLowShap, aesLowHealth);
drawPoints('p3', panel3, aesLowExtraX, aesLowExtraShap, aesLowHealth);
drawPoints('p3', panel3, aesDarkX, aesDarkShap, aesDarkHealth);
drawPoints('p3', panel3, aesHighX, aesHighShap, aesHighHealth);
drawPoints('p3', panel3, aesHighExtraX, aesHighExtraShap, aesHighHealth);
drawPoints('p3', panel3, aesBlendX, aesBlendShap, aesBlendHealth);
drawPoints('p3', panel3, aesMidX, aesMidShap, aesMidHealth);
drawPoints('p3', panel3, aesMagentaX, aesMagentaShap, aesMagentaHealth);
drawAxes('p3', panel3, aesXTicks, aesYTicks, 0, 3, healthColorTicks, 0);
</script>
</body>
</html>
